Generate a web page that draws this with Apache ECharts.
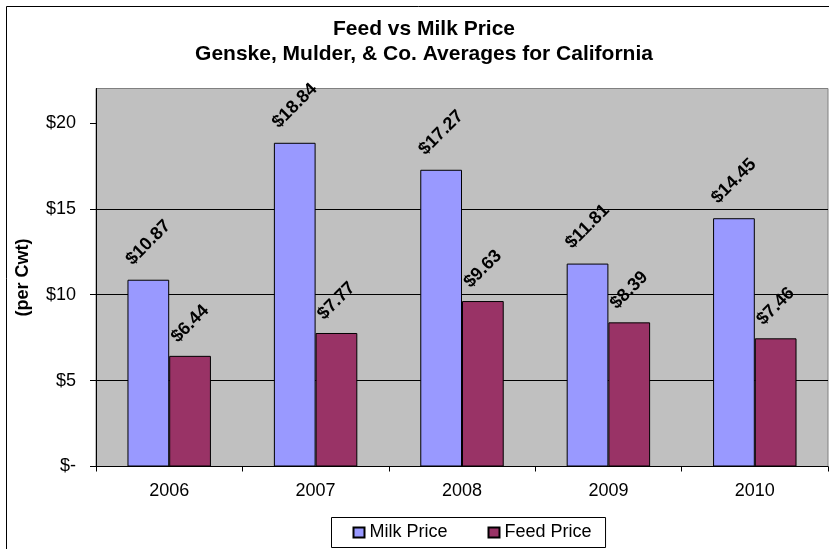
<!DOCTYPE html>
<html>
<head>
<meta charset="utf-8">
<script src="https://cdn.jsdelivr.net/npm/echarts@6/dist/echarts.min.js"></script>
<style>
  html, body { margin: 0; padding: 0; background: #fff; }
  #chart { width: 829px; height: 549px; }
</style>
</head>
<body>
<div id="chart"></div>
<script>
const categories = ['2006', '2007', '2008', '2009', '2010'];
const milkPrice = [10.87, 18.84, 17.27, 11.81, 14.45];
const feedPrice = [6.44, 7.77, 9.63, 8.39, 7.46];
const seriesNames = ['Milk Price', 'Feed Price'];
const yTicks = [0, 5, 10, 15, 20];
const titleLines = ['Feed vs Milk Price', 'Genske, Mulder, & Co. Averages for California'];
const yAxisTitle = '(per Cwt)';

const FONT = '"Liberation Sans", Arial, sans-serif';

const chart = echarts.init(document.getElementById('chart'), null, { renderer: 'canvas' });

function moneyLabel(v) { return '$' + v.toFixed(2); }

const option = {
  backgroundColor: '#ffffff',
  animation: false,
  graphic: [{
    type: 'rect',
    z: 100,
    silent: true,
    shape: { x: 6.5, y: 6.5, width: 1000, height: 1000 },
    style: { fill: 'none', stroke: '#000', lineWidth: 1 }
  }],
  title: {
    text: titleLines.join('\n'),
    left: 419,
    top: 12,
    textAlign: 'center',
    textStyle: { fontFamily: FONT, fontSize: 21, fontWeight: 'bold', color: '#000', lineHeight: 25 }
  },
  legend: {
    data: seriesNames,
    left: 331.5,
    top: 517.5,
    orient: 'horizontal',
    itemWidth: 11,
    itemHeight: 10,
    itemGap: 40,
    padding: [6, 14, 6, 21],
    borderColor: '#000',
    borderWidth: 1,
    backgroundColor: '#fff',
    icon: 'rect',
    textStyle: { fontFamily: FONT, fontSize: 18, color: '#000' }
  },
  grid: {
    left: 96,
    right: 1,
    top: 88.5,
    bottom: 82.5,
    show: true,
    backgroundColor: '#C0C0C0',
    borderColor: '#808080',
    borderWidth: 1
  },
  xAxis: {
    type: 'category',
    data: categories,
    boundaryGap: true,
    axisLine: { show: true, lineStyle: { color: '#000', width: 1 } },
    axisTick: { show: true, length: 5, inside: false, alignWithLabel: false, lineStyle: { color: '#000' } },
    axisLabel: { fontFamily: FONT, fontSize: 18, color: '#000', margin: 16 },
    splitLine: { show: false }
  },
  yAxis: {
    type: 'value',
    min: 0,
    max: 22,
    interval: 5,
    name: yAxisTitle,
    nameLocation: 'middle',
    nameGap: 64,
    nameTextStyle: { fontFamily: FONT, fontSize: 18, fontWeight: 'bold', color: '#000' },
    axisLine: { show: true, lineStyle: { color: '#000', width: 1 } },
    axisTick: { show: true, length: 6, inside: false, customValues: yTicks, lineStyle: { color: '#000' } },
    axisLabel: {
      fontFamily: FONT, fontSize: 18, color: '#000', margin: 20,
      customValues: yTicks,
      formatter: function (v) { return v === 0 ? '$-' : '$' + v; }
    },
    splitLine: { show: true, showMaxLine: false, lineStyle: { color: '#000', width: 1 } }
  },
  series: [
    {
      name: seriesNames[0],
      type: 'bar',
      data: milkPrice,
      barGap: '0%',
      barCategoryGap: '43%',
      itemStyle: { color: '#9999FF', borderColor: '#000', borderWidth: 1 },
      label: {
        show: true,
        position: 'top',
        distance: 37,
        rotate: 45,
        align: 'center',
        verticalAlign: 'middle',
        fontFamily: FONT, fontSize: 18, fontWeight: 'bold', color: '#000',
        formatter: function (p) { return moneyLabel(p.value); }
      }
    },
    {
      name: seriesNames[1],
      type: 'bar',
      data: feedPrice,
      barGap: '0%',
      barCategoryGap: '43%',
      itemStyle: { color: '#993366', borderColor: '#000', borderWidth: 1 },
      label: {
        show: true,
        position: 'top',
        distance: 32,
        rotate: 45,
        align: 'center',
        verticalAlign: 'middle',
        fontFamily: FONT, fontSize: 18, fontWeight: 'bold', color: '#000',
        formatter: function (p) { return moneyLabel(p.value); }
      }
    }
  ]
};

chart.setOption(option);
</script>
</body>
</html>
